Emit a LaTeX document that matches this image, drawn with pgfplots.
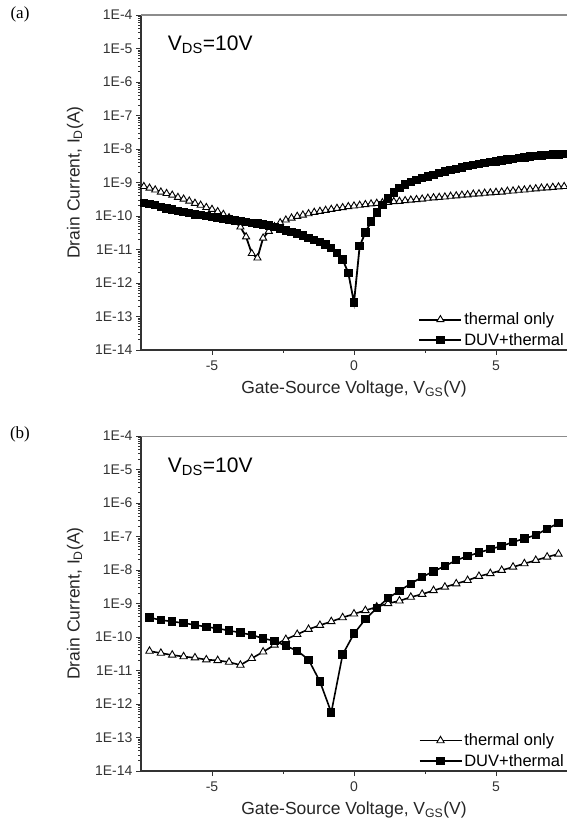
\documentclass[border=0pt]{standalone}
\usepackage{pgfplots}
\usepackage{pgfplotstable}
\pgfplotsset{compat=1.18}
\usepackage{fontspec}
\setmainfont{Liberation Sans}
\newfontfamily\timesfont{Liberation Serif}

% (a) thermal only
\pgfplotstableread{
x y
-7.4 7.6e-10
-7.2 6.8e-10
-7.0 6.0e-10
-6.8 5.2e-10
-6.6 4.7e-10
-6.4 4.2e-10
-6.2 3.6e-10
-6.0 3.2e-10
-5.8 2.8e-10
-5.6 2.4e-10
-5.4 2.1e-10
-5.2 1.8e-10
-5.0 1.58e-10
-4.8 1.35e-10
-4.6 1.12e-10
-4.4 8.9e-11
-4.2 6.8e-11
-4.0 4.7e-11
-3.8 2.4e-11
-3.6 7.6e-12
-3.4 5.6e-12
-3.2 2.2e-11
-3.0 3.5e-11
-2.8 4.8e-11
-2.6 6.3e-11
-2.4 7.6e-11
-2.2 8.7e-11
-2.0 9.8e-11
-1.8 1.07e-10
-1.6 1.17e-10
-1.4 1.29e-10
-1.2 1.38e-10
-1.0 1.48e-10
-0.8 1.58e-10
-0.6 1.70e-10
-0.4 1.78e-10
-0.2 1.91e-10
0.0 2.0e-10
0.2 2.1e-10
0.4 2.2e-10
0.6 2.3e-10
0.8 2.4e-10
1.0 2.5e-10
1.2 2.57e-10
1.4 2.69e-10
1.6 2.75e-10
1.8 2.88e-10
2.0 3.0e-10
2.2 3.1e-10
2.4 3.2e-10
2.6 3.4e-10
2.8 3.5e-10
3.0 3.6e-10
3.2 3.7e-10
3.4 3.9e-10
3.6 4.0e-10
3.8 4.2e-10
4.0 4.3e-10
4.2 4.5e-10
4.4 4.6e-10
4.6 4.8e-10
4.8 4.9e-10
5.0 5.1e-10
5.2 5.2e-10
5.4 5.5e-10
5.6 5.6e-10
5.8 5.9e-10
6.0 6.0e-10
6.2 6.3e-10
6.4 6.5e-10
6.6 6.8e-10
6.8 6.9e-10
7.0 7.2e-10
7.2 7.4e-10
7.4 7.6e-10
}\thermalA

% (a) DUV+thermal
\pgfplotstableread{
x y
-7.4 2.40e-10
-7.2 2.24e-10
-7.0 2.09e-10
-6.8 1.86e-10
-6.6 1.66e-10
-6.4 1.55e-10
-6.2 1.41e-10
-6.0 1.32e-10
-5.8 1.23e-10
-5.6 1.12e-10
-5.4 1.05e-10
-5.2 1.00e-10
-5.0 9.3e-11
-4.8 8.9e-11
-4.6 8.3e-11
-4.4 7.9e-11
-4.2 7.4e-11
-4.0 7.1e-11
-3.8 6.6e-11
-3.6 6.3e-11
-3.4 6.0e-11
-3.2 5.6e-11
-3.0 5.2e-11
-2.8 4.7e-11
-2.6 4.2e-11
-2.4 3.7e-11
-2.2 3.3e-11
-2.0 3.0e-11
-1.8 2.6e-11
-1.6 2.2e-11
-1.4 1.9e-11
-1.2 1.66e-11
-1.0 1.41e-11
-0.8 1.12e-11
-0.6 7.9e-12
-0.4 5.0e-12
-0.2 2.0e-12
0.0 2.6e-13
0.2 1.26e-11
0.4 3.2e-11
0.6 6.8e-11
0.8 1.26e-10
1.0 2.1e-10
1.2 3.3e-10
1.4 5.0e-10
1.6 6.9e-10
1.8 8.7e-10
2.0 1.05e-9
2.2 1.2e-9
2.4 1.35e-9
2.6 1.51e-9
2.8 1.70e-9
3.0 1.91e-9
3.2 2.14e-9
3.4 2.34e-9
3.6 2.57e-9
3.8 2.82e-9
4.0 3.09e-9
4.2 3.31e-9
4.4 3.55e-9
4.6 3.80e-9
4.8 4.07e-9
5.0 4.27e-9
5.2 4.57e-9
5.4 4.90e-9
5.6 5.13e-9
5.8 5.37e-9
6.0 5.62e-9
6.2 5.89e-9
6.4 6.17e-9
6.6 6.31e-9
6.8 6.61e-9
7.0 6.76e-9
7.2 6.92e-9
7.4 7.08e-9
}\duvA

% (b) thermal only
\pgfplotstableread{
x y
-7.2 3.8e-11
-6.8 3.3e-11
-6.4 2.9e-11
-6.0 2.6e-11
-5.6 2.4e-11
-5.2 2.1e-11
-4.8 2.0e-11
-4.4 1.78e-11
-4.0 1.45e-11
-3.6 2.3e-11
-3.2 3.6e-11
-2.8 5.8e-11
-2.4 8.5e-11
-2.0 1.2e-10
-1.6 1.7e-10
-1.2 2.24e-10
-0.8 2.9e-10
-0.4 3.8e-10
0.0 4.9e-10
0.4 6.2e-10
0.8 7.9e-10
1.2 1.0e-9
1.6 1.2e-9
2.0 1.55e-9
2.4 1.9e-9
2.8 2.45e-9
3.2 3.1e-9
3.6 3.9e-9
4.0 4.9e-9
4.4 6.5e-9
4.8 7.9e-9
5.2 9.8e-9
5.6 1.23e-8
6.0 1.55e-8
6.4 1.95e-8
6.8 2.45e-8
7.2 3.0e-8
}\thermalB

% (b) DUV+thermal
\pgfplotstableread{
x y
-7.2 3.8e-10
-6.8 3.2e-10
-6.4 2.9e-10
-6.0 2.6e-10
-5.6 2.3e-10
-5.2 2.0e-10
-4.8 1.8e-10
-4.4 1.55e-10
-4.0 1.35e-10
-3.6 1.15e-10
-3.2 9.1e-11
-2.8 7.6e-11
-2.4 5.4e-11
-2.0 3.9e-11
-1.6 2.1e-11
-1.2 4.7e-12
-0.8 5.6e-13
-0.4 3.0e-11
0.0 1.26e-10
0.4 3.4e-10
0.8 7.2e-10
1.2 1.45e-9
1.6 2.4e-9
2.0 3.9e-9
2.4 6.2e-9
2.8 9.1e-9
3.2 1.32e-8
3.6 1.95e-8
4.0 2.6e-8
4.4 3.3e-8
4.8 4.2e-8
5.2 5.2e-8
5.6 6.8e-8
6.0 8.7e-8
6.4 1.1e-7
6.8 1.7e-7
7.2 2.5e-7
}\duvB

\pgfplotsset{
  every axis/.append style={
    width=426pt, height=335pt, scale only axis,
    xmin=-7.5, xmax=7.5,
    ymin=1e-14, ymax=1e-4,
    axis x line*=bottom, axis y line*=left,
    xtick={-5,0,5}, xticklabels={-5,0,5},
    minor x tick num=1,
    ytick={1e-14,1e-13,1e-12,1e-11,1e-10,1e-9,1e-8,1e-7,1e-6,1e-5,1e-4},
    yticklabels={1E-14,1E-13,1E-12,1E-11,1E-10,1E-9,1E-8,1E-7,1E-6,1E-5,1E-4},
    tick align=outside,
    major tick length=5pt, minor tick length=3pt,
    tick style={black!80, line width=0.9pt},
    ticklabel style={font=\fontsize{14}{16}\selectfont, text=black!80},
    xticklabel style={yshift=-2pt},
    xlabel={Gate-Source Voltage, V\textsubscript{GS}(V)},
    ylabel={Drain Current, I\textsubscript{D}(A)},
    label style={font=\fontsize{17.5}{20}\selectfont, text=black!85},
    xlabel shift=4pt, ylabel shift=5pt,
    axis line style={black!80, line width=1.4pt},
    legend style={draw=none, fill=none, at={(1,0)}, anchor=south east,
      font=\fontsize{16.5}{18}\selectfont, row sep=3pt, inner sep=1pt,
      cells={anchor=west}},
  },
}

\begin{document}
\begin{tikzpicture}[x=1pt,y=1pt]
\useasboundingbox (0,0) rectangle (567,824);
\clip (0,0) rectangle (567,824);

\node[font=\timesfont\fontsize{17}{20}\selectfont] at (20,810) {(a)};
\begin{semilogyaxis}[at={(141pt,474pt)}, anchor=south west,
  legend image code/.code={\draw[mark repeat=2,mark phase=2,#1]
    plot coordinates {(0pt,0pt) (21pt,0pt) (42pt,0pt)};}]
\addplot[black, line width=1.8pt, mark=triangle*, mark size=4.1pt,
  mark options={fill=white, line width=0.9pt}] table {\thermalA};
\addplot[black, line width=1.8pt, mark=square*, mark size=3.3pt,
  mark options={fill=black}] table {\duvA};
\legend{thermal only, DUV+thermal}
\draw[black!45, line width=1.2pt] (rel axis cs:0,1) -- (rel axis cs:1,1);
\node[anchor=west, font=\fontsize{21}{26}\selectfont] at (rel axis cs:0.055,0.91) {V\textsubscript{DS}=10V};
\end{semilogyaxis}

\node[font=\timesfont\fontsize{17}{20}\selectfont] at (20,390) {(b)};
\begin{semilogyaxis}[at={(141pt,53pt)}, anchor=south west,
  legend image code/.code={\draw[mark repeat=2,mark phase=2,#1]
    plot coordinates {(0pt,0pt) (21pt,0pt) (42pt,0pt)};}]
\addplot[black, line width=1.6pt, mark=triangle*, mark size=4.3pt,
  mark options={fill=white, line width=0.9pt}] table {\thermalB};
\addplot[black, line width=1.6pt, mark=square*, mark size=3.4pt,
  mark options={fill=black}] table {\duvB};
\legend{thermal only, DUV+thermal}
\draw[black!45, line width=1.2pt] (rel axis cs:0,1) -- (rel axis cs:1,1);
\node[anchor=west, font=\fontsize{21}{26}\selectfont] at (rel axis cs:0.055,0.907) {V\textsubscript{DS}=10V};
\end{semilogyaxis}
\end{tikzpicture}
\end{document}
